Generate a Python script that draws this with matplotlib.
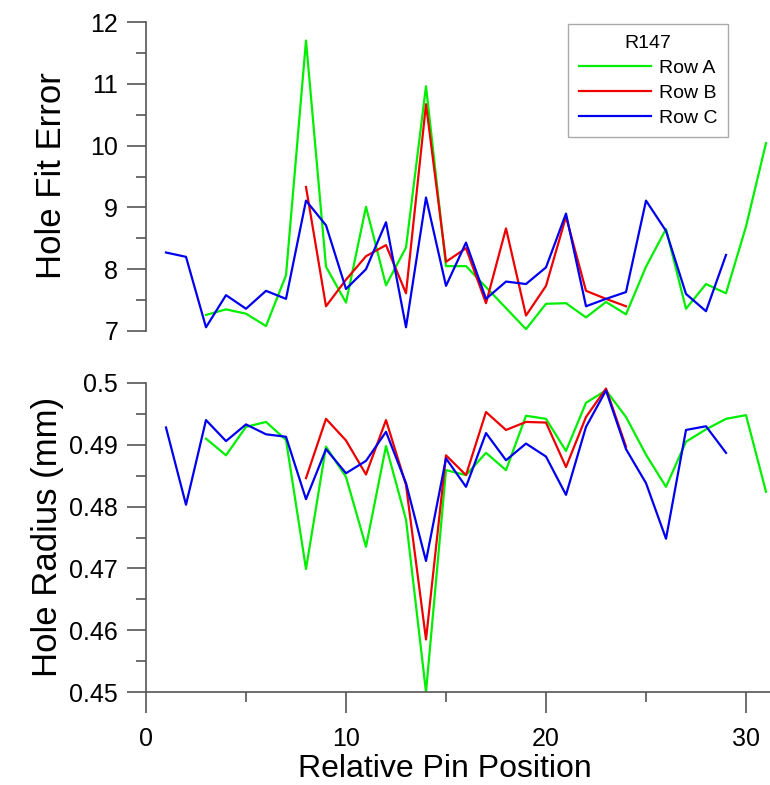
import matplotlib
matplotlib.use('Agg')
import matplotlib.pyplot as plt
import matplotlib.ticker as mticker

plt.rcParams['font.family'] = ['Liberation Sans', 'DejaVu Sans']

# pin positions for each row
pins_a = list(range(3, 32))
pins_b = list(range(8, 25))
pins_c = list(range(1, 30))

# hole fit error
fit_a = [7.26, 7.35, 7.28, 7.08, 7.90, 11.70, 8.04, 7.46, 9.01, 7.74, 8.35, 10.96, 8.05,
         8.05, 7.71, 7.37, 7.03, 7.44, 7.45, 7.22, 7.47, 7.27, 8.04, 8.65, 7.36, 7.76,
         7.61, 8.69, 10.04]
fit_b = [9.33, 7.40, 7.83, 8.21, 8.39, 7.61, 10.67, 8.12, 8.34, 7.45, 8.66, 7.25, 7.73,
         8.85, 7.65, 7.52, 7.40]
fit_c = [8.27, 8.20, 7.06, 7.58, 7.36, 7.65, 7.52, 9.11, 8.71, 7.68, 8.00, 8.76, 7.06,
         9.16, 7.73, 8.43, 7.52, 7.80, 7.76, 8.03, 8.90, 7.40, 7.52, 7.63, 9.11, 8.62,
         7.60, 7.32, 8.23]

# hole radius (mm)
rad_a = [0.4910, 0.4883, 0.4929, 0.4937, 0.4908, 0.4699, 0.4897, 0.4848, 0.4735, 0.4898,
         0.4779, 0.4500, 0.4859, 0.4851, 0.4887, 0.4859, 0.4947, 0.4942, 0.4890, 0.4968,
         0.4988, 0.4945, 0.4884, 0.4832, 0.4905, 0.4925, 0.4942, 0.4948, 0.4824]
rad_b = [0.4846, 0.4942, 0.4907, 0.4852, 0.4940, 0.4835, 0.4585, 0.4883, 0.4851, 0.4953,
         0.4924, 0.4937, 0.4936, 0.4864, 0.4945, 0.4991, 0.4897]
rad_c = [0.4928, 0.4803, 0.4940, 0.4906, 0.4933, 0.4917, 0.4913, 0.4812, 0.4893, 0.4854,
         0.4874, 0.4921, 0.4838, 0.4712, 0.4878, 0.4832, 0.4919, 0.4875, 0.4902, 0.4881,
         0.4819, 0.4929, 0.4988, 0.4893, 0.4838, 0.4748, 0.4924, 0.4930, 0.4887]

row_names = ['Row A', 'Row B', 'Row C']
row_colors = ['#00ee00', '#ee0000', '#0000ee']

W, H = 770, 785
fig = plt.figure(figsize=(W / 100, H / 100), dpi=100)

left = 146 / W
ax1 = fig.add_axes([left, 1 - 331 / H, 1 - left, (331 - 22) / H])
ax2 = fig.add_axes([left, 1 - 692 / H, 1 - left, (692 - 383) / H])

spine_col = '#555555'

for ax, (ya, yb, yc) in [(ax1, (fit_a, fit_b, fit_c)), (ax2, (rad_a, rad_b, rad_c))]:
    for pins, vals, name, col in zip((pins_a, pins_b, pins_c), (ya, yb, yc), row_names, row_colors):
        ax.plot(pins, vals, color=col, lw=1.6, label=name)
    ax.set_xlim(0, 31.2)
    ax.spines['top'].set_visible(False)
    ax.spines['right'].set_visible(False)
    for s in ('left', 'bottom'):
        ax.spines[s].set_color(spine_col)
        ax.spines[s].set_linewidth(1.2)
    ax.tick_params(axis='y', which='major', direction='out', length=14, width=1.2,
                   color=spine_col, labelsize=18, pad=6)
    ax.tick_params(axis='y', which='minor', direction='out', length=7, width=1.2,
                   color=spine_col)

# top panel: no x axis
ax1.spines['bottom'].set_visible(False)
ax1.tick_params(axis='x', which='both', bottom=False, labelbottom=False)
ax1.set_ylim(7, 12)
ax1.yaxis.set_major_locator(mticker.MultipleLocator(1))
ax1.yaxis.set_minor_locator(mticker.MultipleLocator(0.5))

# bottom panel
ax2.set_ylim(0.45, 0.5)
ax2.yaxis.set_major_locator(mticker.MultipleLocator(0.01))
ax2.yaxis.set_minor_locator(mticker.MultipleLocator(0.005))
ax2.yaxis.set_major_formatter(mticker.FuncFormatter(lambda v, p: ('%.3f' % v).rstrip('0')))
ax2.xaxis.set_major_locator(mticker.MultipleLocator(10))
ax2.xaxis.set_minor_locator(mticker.MultipleLocator(5))
ax2.tick_params(axis='x', which='major', direction='out', length=15, width=1.2,
                color=spine_col, labelsize=18, pad=10)
ax2.tick_params(axis='x', which='minor', direction='out', length=7, width=1.2,
                color=spine_col)

fig.text(52 / W, 1 - 176 / H, 'Hole Fit Error', rotation=90, ha='center', va='center', fontsize=25)
fig.text(48 / W, 1 - 537 / H, 'Hole Radius (mm)', rotation=90, ha='center', va='center', fontsize=25)
fig.text(445 / W, 1 - 769 / H, 'Relative Pin Position', ha='center', va='center', fontsize=23)

leg = ax1.legend(title='R147', loc='upper right', bbox_to_anchor=(728 / W, 1 - 24 / H),
                 bbox_transform=fig.transFigure, fontsize=14, title_fontsize=14,
                 fancybox=False, framealpha=1, edgecolor='#aaaaaa', handlelength=3.7,
                 labelspacing=0.38, borderpad=0.55, handletextpad=0.4, borderaxespad=0)
leg.get_frame().set_linewidth(1.0)

fig.savefig('out.png', dpi=100)
